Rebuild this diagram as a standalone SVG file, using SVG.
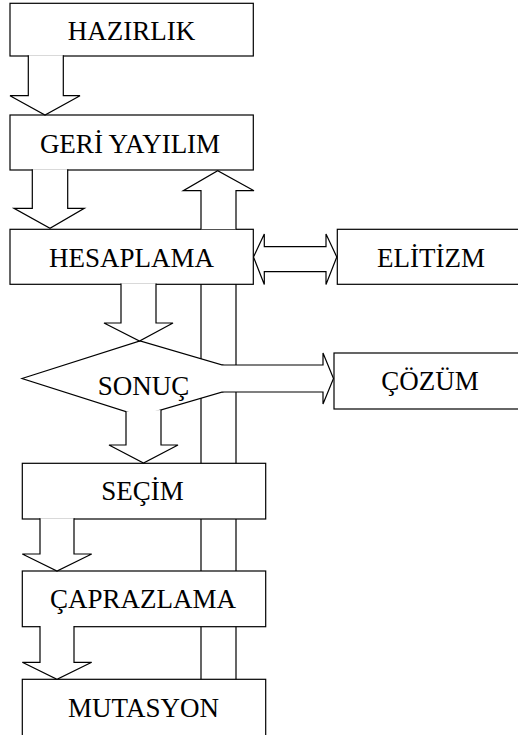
<svg xmlns="http://www.w3.org/2000/svg" width="518" height="735" viewBox="0 0 518 735">
  <style>
    .box { fill: #fff; stroke: #000; stroke-width: 1.2; }
    .arr { fill: #fff; stroke: #000; stroke-width: 1.2; stroke-linejoin: miter; }
    .line { fill: none; stroke: #000; stroke-width: 1.2; }
    text { font-size: 27px; fill: #000; text-anchor: middle; }
  </style>
  <rect width="518" height="735" fill="#fff"/>

  <g font-family="'Liberation Serif', 'DejaVu Serif', serif">
  <!-- process steps -->
  <g id="hazirlik">
    <rect class="box" x="10" y="3.3" width="243.3" height="52.7"/>
    <text x="131.5" y="40">HAZIRLIK</text>
  </g>
  <g id="geri-yayilim">
    <rect class="box" x="10" y="115" width="243.3" height="55"/>
    <text x="130" y="153">GERİ YAYILIM</text>
  </g>
  <g id="hesaplama">
    <rect class="box" x="10" y="229.3" width="243.3" height="55"/>
    <text x="131.5" y="267">HESAPLAMA</text>
  </g>
  <g id="elitizm">
    <rect class="box" x="337.3" y="229.3" width="200" height="55"/>
    <text x="431" y="267">ELİTİZM</text>
  </g>
  <g id="sonuc">
    <polygon class="box" points="22,378.5 140,341 268,378.5 140,416"/>
  </g>
  <g id="cozum">
    <rect class="box" x="334" y="353" width="200" height="56"/>
    <text x="430" y="390">ÇÖZÜM</text>
  </g>
  <g id="secim">
    <rect class="box" x="22.3" y="463.3" width="243.4" height="55.7"/>
    <text x="142.5" y="500">SEÇİM</text>
  </g>
  <g id="caprazlama">
    <rect class="box" x="22.3" y="571" width="243.4" height="55.7"/>
    <text x="143" y="608">ÇAPRAZLAMA</text>
  </g>
  <g id="mutasyon">
    <rect class="box" x="22.3" y="679.3" width="243.4" height="80"/>
    <text x="143.5" y="717">MUTASYON</text>
  </g>

  <!-- block arrows between steps -->
  <g id="connectors">
    <!-- HAZIRLIK to GERI YAYILIM -->
    <path class="arr" d="M28.3,55.2 V95.7 H10 L45,115 L80,95.7 H63.3 V55.2"/>
    <!-- GERI YAYILIM to HESAPLAMA -->
    <path class="arr" d="M32.3,169.2 V208.3 H14 L50,228.3 L84.3,208.3 H67.7 V169.2"/>
    <!-- HESAPLAMA to SONUC -->
    <path class="arr" d="M121,283.5 V323 H104 L139.5,341 L173,323 H156 V283.5"/>
    <!-- HESAPLAMA to ELITIZM, both ways -->
    <polygon class="arr" points="253.5,257 264.3,234 264.3,246.7 326,246.7 326,234 336.8,257 326,284.5 326,271.7 264.3,271.7 264.3,284.5"/>
    <!-- SONUC to COZUM -->
    <path class="arr" d="M222,365 H323 V353 L333.5,378.5 L323,404 V392 H222"/>
    <!-- SONUC to SECIM -->
    <path class="arr" d="M126,411.4 V445 H109 L143.5,463 L178,445 H161 V409.9"/>
    <!-- SECIM to CAPRAZLAMA -->
    <path class="arr" d="M40,518.2 V554 H22.3 L57,571 L91.7,554 H74 V518.2"/>
    <!-- CAPRAZLAMA to MUTASYON -->
    <path class="arr" d="M40,625.9 V662.3 H22.3 L57,679.3 L91.7,662.3 H74 V625.9"/>
    <!-- feedback from MUTASYON back up to GERI YAYILIM -->
    <path class="arr" d="M201,229.3 V190.7 H183.3 L217.7,170.7 L254,190.7 H236 V229.3"/>
    <path class="line" d="M201,284.3 V358.9 M201,398.1 V463.3 M201,519 V571 M201,626.7 V679.3"/>
    <path class="line" d="M236,284.3 V365 M236,392 V463.3 M236,519 V571 M236,626.7 V679.3"/>
  </g>

  <text x="143.5" y="395">SONUÇ</text>
  </g>
</svg>
